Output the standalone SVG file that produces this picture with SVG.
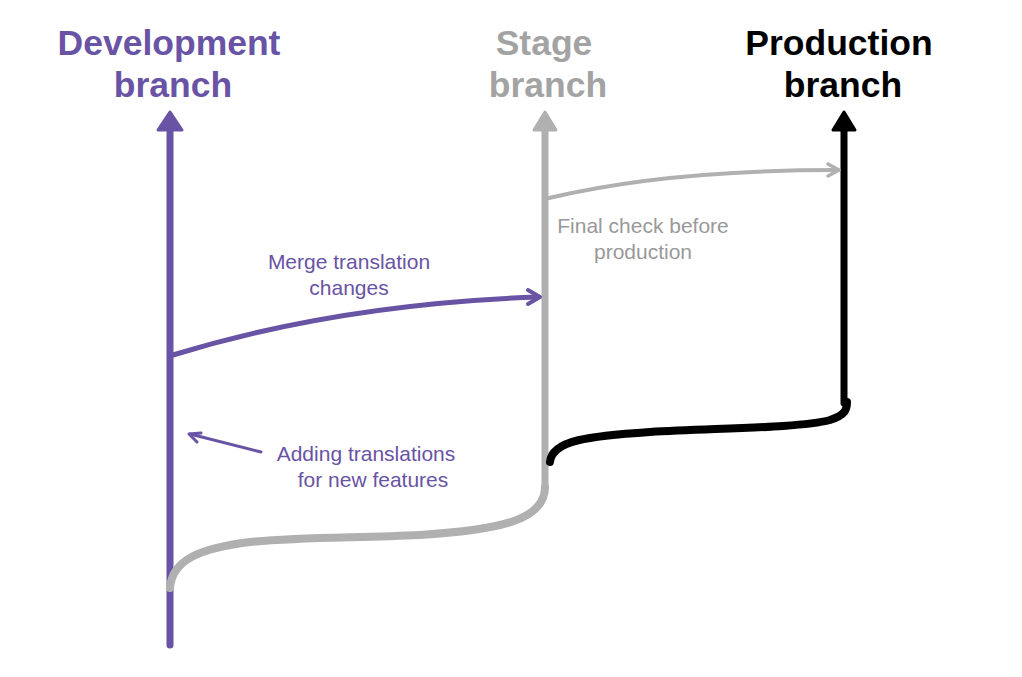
<svg xmlns="http://www.w3.org/2000/svg" width="1022" height="677" viewBox="0 0 1022 677">
<style>
.title{font-family:"Liberation Sans",Arial,sans-serif;font-weight:bold;font-size:35.5px;text-anchor:middle}
.lbl{font-family:"Liberation Sans",Arial,sans-serif;font-size:21px;text-anchor:middle}
.purple{fill:#6953a4}
.gray{fill:#a3a3a3}
.grayl{fill:#999999}
.black{fill:#000}
.ln{fill:none;stroke-linecap:round;stroke-linejoin:round}
</style>
<rect width="1022" height="677" fill="#fff"/>
<g id="dev-node">
<text class="title purple" x="169" y="55">Development</text>
<text class="title purple" x="173" y="97">branch</text>
</g>
<g id="stage-node">
<text class="title gray" x="544" y="55">Stage</text>
<text class="title gray" x="548" y="97">branch</text>
</g>
<g id="prod-node">
<text class="title black" x="839" y="55">Production</text>
<text class="title black" x="843" y="97">branch</text>
</g>
<g id="connectors">
<path class="ln" d="M170 645 V124" stroke="#6953a4" stroke-width="7"/>
<path d="M170 112 L182 130 L158 130 Z" fill="#6953a4" stroke="#6953a4" stroke-width="3" stroke-linejoin="round"/>
<path class="ln" d="M170 588 C172 560 200 548 250 542 C300 537 360 538 420 535 C500 530 545 520 545 487" stroke="#b0b0b0" stroke-width="8"/>
<path class="ln" d="M545 487 V124" stroke="#b0b0b0" stroke-width="7"/>
<path d="M545 112 L556 130 L534 130 Z" fill="#b0b0b0" stroke="#b0b0b0" stroke-width="3" stroke-linejoin="round"/>
<path class="ln" d="M550 462 C552 440 590 436 650 432 C720 428 800 428 830 420 C845 415 847 410 847 402" stroke="#000" stroke-width="8"/>
<path class="ln" d="M844 403 V124" stroke="#000" stroke-width="7"/>
<path d="M844 112 L855 130 L833 130 Z" fill="#000" stroke="#000" stroke-width="3" stroke-linejoin="round"/>
<path class="ln" d="M173 355 C280 322 400 302 538 297" stroke="#6953a4" stroke-width="5"/>
<path class="ln" d="M528 290 L540 297 L528 304" stroke="#6953a4" stroke-width="4"/>
<path class="ln" d="M549 198 C640 176 740 170 838 170" stroke="#b0b0b0" stroke-width="4"/>
<path class="ln" d="M828 164 L839 170 L828 176" stroke="#b0b0b0" stroke-width="3.5"/>
<path class="ln" d="M261 452 L190 434" stroke="#6953a4" stroke-width="3"/>
<path class="ln" d="M201 433 L189 434 L197 442" stroke="#6953a4" stroke-width="3"/>
</g>
<g id="labels">
<text class="lbl purple" x="349" y="269">Merge translation</text>
<text class="lbl purple" x="349" y="295">changes</text>
<text class="lbl grayl" x="643" y="233">Final check before</text>
<text class="lbl grayl" x="643" y="259">production</text>
<text class="lbl purple" x="366" y="461">Adding translations</text>
<text class="lbl purple" x="373" y="487">for new features</text>
</g>
</svg>
